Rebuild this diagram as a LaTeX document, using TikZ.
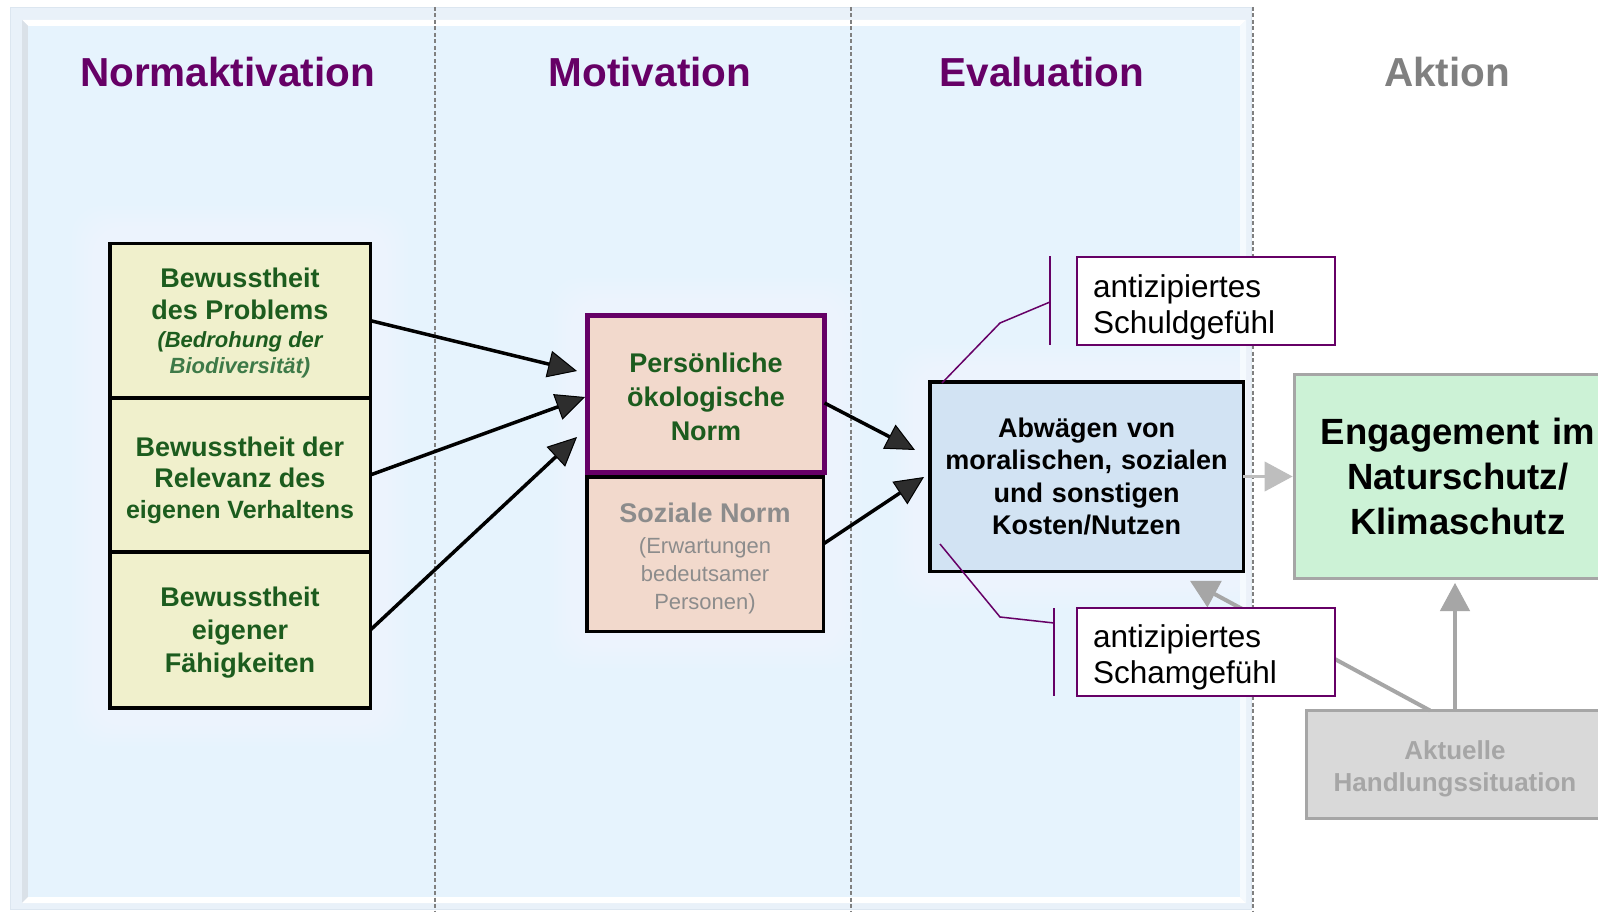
\documentclass[tikz,border=0pt]{standalone}
\usepackage{fontspec}
\setmainfont{Liberation Sans}
\usetikzlibrary{arrows.meta,calc}

\definecolor{panelfill}{RGB}{230,243,253}
\definecolor{panelrim}{RGB}{233,241,249}
\definecolor{rimline}{RGB}{220,230,240}
\definecolor{bevelshade}{RGB}{218,225,232}
\definecolor{titlepurple}{RGB}{102,0,102}
\definecolor{titlegray}{RGB}{128,128,128}
\definecolor{leafgreen}{RGB}{28,92,30}
\definecolor{palegreen}{RGB}{62,122,72}
\definecolor{strawfill}{RGB}{240,240,204}
\definecolor{peachfill}{RGB}{242,217,204}
\definecolor{skyfill}{RGB}{210,227,243}
\definecolor{mintfill}{RGB}{204,242,214}
\definecolor{fogfill}{RGB}{217,217,217}
\definecolor{midgray}{RGB}{166,166,166}
\definecolor{softgray}{RGB}{140,140,140}
\definecolor{palegray}{RGB}{190,190,190}
\definecolor{dashgray}{RGB}{128,128,128}
\definecolor{headgray}{RGB}{45,45,45}

% font size with a fixed word space taken from the font itself
\newcommand\sized[2]{\fontsize{#1}{#2}\selectfont\spaceskip=\fontdimen2\font\xspaceskip=\fontdimen2\font\relax}
% invisible strut that sets the height of a first line
\newcommand\lift[1]{\rule{0pt}{#1}}

\begin{document}
\begin{tikzpicture}[x=1pt,y=-1pt,
  titletext/.style={font=\fontsize{40.5}{48}\selectfont\bfseries, text=titlepurple, inner sep=0pt},
  phaseline/.style={draw=dashgray, line width=1.5pt, dash pattern=on 4pt off 2.5pt},
  strawbox/.style={draw=black, line width=3.5pt, fill=strawfill, text=leafgreen, font=\bfseries,
    minimum width=260.5pt, text width=252pt, align=center, inner sep=0pt, outer sep=0pt},
  peachbox/.style={fill=peachfill, minimum width=237pt, text width=228pt, align=center,
    inner sep=0pt, outer sep=0pt},
  skybox/.style={draw=black, line width=3.5pt, fill=skyfill, font=\bfseries\fontsize{27}{32.5}\selectfont,
    minimum width=313.5pt, minimum height=189.5pt, text width=305pt, align=center, inner sep=0pt, outer sep=0pt},
  actbox/.style={draw=midgray, line width=3pt, font=\bfseries, align=center, inner sep=0pt, outer sep=0pt},
  feelbox/.style={draw=titlepurple, line width=2pt, fill=white, minimum width=258pt, minimum height=88pt,
    text width=226pt, align=left, inner xsep=16pt, inner ysep=0pt, outer sep=0pt,
    font=\fontsize{31.5}{36}\selectfont},
  bracket/.style={draw=titlepurple, line width=1.5pt},
  pusharrow/.style={draw=black, line width=3.5pt,
    -{Triangle[length=29pt,width=27pt,line width=1pt,fill=headgray]}},
  greyarrow/.style={draw=midgray, line width=4pt, -{Triangle[length=28pt,width=30pt,line width=1pt]}},
]
\useasboundingbox (0,0) rectangle (1598,912);
\fill[white] (0,0) rectangle (1598,912);

% framed panel behind the three process phases
\fill[panelrim] (10,7) rectangle (1252,910);
\draw[rimline, line width=0.8pt] (10.4,7.4) rectangle (1251.6,909.6);
\fill[white] (22,20) -- (1246,20) -- (1240,26) -- (28,26) -- cycle;
\fill[bevelshade] (22,20) -- (28,26) -- (28,897) -- (22,903) -- cycle;
\fill[white] (22,903) -- (28,897) -- (1240,897) -- (1246,903) -- cycle;
\fill[white!60!panelfill] (1246,20) -- (1240,26) -- (1240,897) -- (1246,903) -- cycle;
\fill[panelfill] (28,26) rectangle (1240,897);

% soft halos around the box groups
\foreach \g in {0,...,7}{
  \fill[white, opacity=0.05, rounded corners=30pt] (72+4*\g,206+4*\g) rectangle (408-4*\g,746-4*\g);
  \fill[white, opacity=0.05, rounded corners=30pt] (550+4*\g,278+4*\g) rectangle (862-4*\g,668-4*\g);
  \fill[white, opacity=0.05, rounded corners=30pt] (893+4*\g,345+4*\g) rectangle (1280-4*\g,608-4*\g);
}

% phase separators
\draw[phaseline] (435,7) -- (435,912);
\draw[phaseline] (851,7) -- (851,912);
\draw[phaseline] (1253,7) -- (1253,912);

% phase headings
\node[titletext] (tNorm) at (227.5,72) {Normaktivation};
\node[titletext] (tMot) at (650,72) {Motivation};
\node[titletext] (tEval) at (1042,72) {Evaluation};
\node[titletext, text=titlegray] (tAkt) at (1447,72) {Aktion};

% norm activation: three awareness boxes
\node[strawbox, minimum height=153.75pt] (b1) at (240,320.6)
  {{\sized{27}{32}\lift{24.3pt}Bewusstheit\\des Problems\par}\vspace{2pt}%
   {\sized{22}{26}\itshape (Bedrohung der\\\textcolor{palegreen}{Biodiversität)}\par}};
\node[strawbox, minimum height=154.5pt] (b2) at (240,475)
  {{\sized{27}{31}\lift{30.7pt}Bewusstheit der\\Relevanz des\par}%
   {\sized{25}{31.5}eigenen Verhaltens\par}};
\node[strawbox, minimum height=156.25pt] (b3) at (240,630.1)
  {{\sized{27}{33}\lift{25.3pt}Bewusstheit\\eigener\\Fähigkeiten\par}};

% motivation: social norm below personal norm
\node[peachbox, draw=black, line width=3.5pt, text=softgray, minimum width=236.5pt, minimum height=154.5pt]
  (sb) at (705,554)
  {{\sized{27}{32}\bfseries\lift{28.3pt}Soziale Norm\par}\vspace{2.5pt}%
   {\sized{22}{28}(Erwartungen\\bedeutsamer\\Personen)\par}};
\node[peachbox, draw=titlepurple, line width=5pt, text=leafgreen, minimum height=157pt,
  font=\bfseries\fontsize{27}{34}\selectfont] (pb) at (706,394)
  {\lift{25.7pt}Persönliche\\ökologische\\Norm};

% evaluation
\node[skybox] (ab) at (1086.5,476.5)
  {Abwägen von\\moralischen, sozialen\\und sonstigen\\Kosten/Nutzen};

% action
\node[actbox, fill=mintfill, minimum width=326.5pt, minimum height=204pt, text width=320pt,
  font=\bfseries\fontsize{36.5}{45}\selectfont] (eb) at (1457.75,476.5)
  {Engagement im\\Naturschutz/\\Klimaschutz};
\node[actbox, fill=fogfill, text=midgray, minimum width=297pt, minimum height=108pt, text width=290pt]
  (ak) at (1455,764.5)
  {{\sized{26}{32}\lift{26.6pt}Aktuelle\\Handlungssituation\par}};

% connectors
\draw[pusharrow] (b1.east) -- ($(pb.west)+(-10.5,-23)$);
\draw[pusharrow] (b2.east) -- ($(pb.west)+(-2.5,3)$);
\draw[pusharrow] (b3.east) -- ($(pb.west)+(-10.5,43)$);
\draw[pusharrow] ($(pb.east)+(0,9)$) -- ($(ab.west)+(-14.75,-26.5)$);
\draw[pusharrow] ($(sb.east)+(0,-10)$) -- ($(ab.west)+(-5.75,0.5)$);
\draw[greyarrow, draw=palegray, line width=3pt] (ab.east) -- ($(eb.west)+(-2,0)$);
\draw[greyarrow] (ak.north) -- ($(ak.north |- eb.south)+(0,4.5)$);
\draw[greyarrow] ($(ak.north)+(-25,0)$) -- ($(ab.south)+(103.5,9.5)$);

% anticipated emotions
\node[feelbox] (sc) at (1206,300.5) {\lift{36.5pt}antizipiertes\\Schuldgefühl};
\node[feelbox] (sh) at (1206,652) {\lift{34.5pt}antizipiertes\\Schamgefühl};

\coordinate (scTop) at ($(sc.west)+(-27,-44.5)$);
\coordinate (scBot) at ($(sc.west)+(-27,44.5)$);
\coordinate (scKnee) at ($(sc.west)+(-27,1.5)$);
\coordinate (scBend) at (1000,323);
\coordinate (scEnd) at ($(ab.north west)+(12.25,1.25)$);
\draw[bracket] (scTop) -- (scBot);
\draw[bracket] (scKnee) -- (scBend) -- (scEnd);

\coordinate (shTop) at ($(sh.west)+(-23,-44)$);
\coordinate (shBot) at ($(sh.west)+(-23,44)$);
\coordinate (shKnee) at ($(sh.west)+(-23,-29)$);
\coordinate (shBend) at (1000,617);
\coordinate (shEnd) at ($(ab.south west)+(10.25,-27.25)$);
\draw[bracket] (shTop) -- (shBot);
\draw[bracket] (shKnee) -- (shBend) -- (shEnd);
\end{tikzpicture}
\end{document}
